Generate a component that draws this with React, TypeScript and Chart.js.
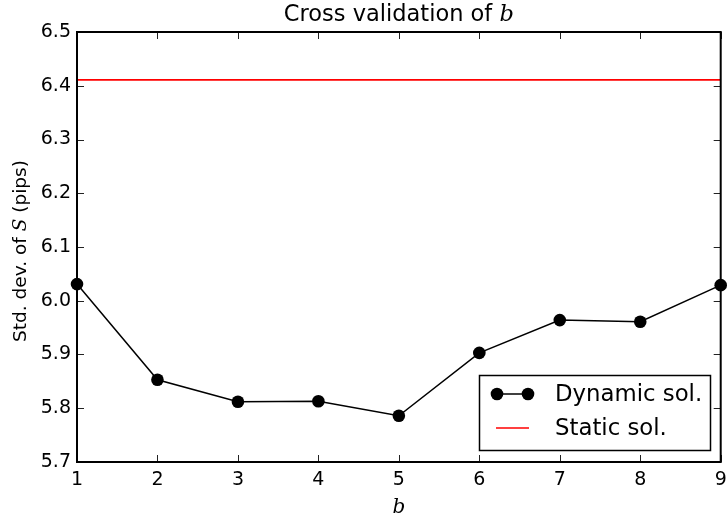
import React, { useEffect, useRef } from "react";
import { Chart, registerables } from "chart.js";

Chart.register(...registerables);

const bValues = [1, 2, 3, 4, 5, 6, 7, 8, 9];
const dynamicSol = [6.031, 5.853, 5.812, 5.813, 5.786, 5.903, 5.964, 5.961, 6.029];
const staticSol = [6.411, 6.411];
const staticX = [1, 9];
const yTicks = [5.7, 5.8, 5.9, 6.0, 6.1, 6.2, 6.3, 6.4, 6.5];
const titleText = "Cross validation of ";
const titleMath = "b";
const yLabelParts = ["Std. dev. of ", "S", " (pips)"];
const legendLabels = ["Dynamic sol.", "Static sol."];

const SANS = "'DejaVu Sans', sans-serif";

const framePlugin = {
  id: "frame",
  afterDraw(chart: any) {
    const { ctx, chartArea: a, scales } = chart;
    ctx.save();
    // inward ticks
    ctx.strokeStyle = "#222";
    ctx.lineWidth = 1;
    const tl = 7;
    scales.x.ticks.forEach((t: any) => {
      const px = Math.round(scales.x.getPixelForValue(t.value)) + 0.5;
      ctx.beginPath();
      ctx.moveTo(px, a.bottom);
      ctx.lineTo(px, a.bottom - tl);
      ctx.moveTo(px, a.top);
      ctx.lineTo(px, a.top + tl);
      ctx.stroke();
    });
    scales.y.ticks.forEach((t: any) => {
      const py = Math.round(scales.y.getPixelForValue(t.value)) + 0.5;
      ctx.beginPath();
      ctx.moveTo(a.left, py);
      ctx.lineTo(a.left + tl, py);
      ctx.moveTo(a.right, py);
      ctx.lineTo(a.right - tl, py);
      ctx.stroke();
    });
    // frame
    ctx.strokeStyle = "#000";
    ctx.lineWidth = 2;
    ctx.strokeRect(a.left, a.top, a.right - a.left, a.bottom - a.top);

    // title
    ctx.fillStyle = "#000";
    ctx.textBaseline = "alphabetic";
    const tf = `22.5px ${SANS}`;
    const tfm = "italic 22.5px 'DejaVu Serif', serif";
    ctx.font = tf;
    const w1 = ctx.measureText(titleText).width;
    ctx.font = tfm;
    const w2 = ctx.measureText(titleMath).width;
    const cx = (a.left + a.right) / 2;
    const sx = cx - (w1 + w2) / 2;
    ctx.textAlign = "left";
    ctx.font = tf;
    ctx.fillText(titleText, sx, 21);
    ctx.font = tfm;
    ctx.fillText(titleMath, sx + w1, 21);

    // x label
    ctx.font = "italic 20px 'DejaVu Serif', serif";
    ctx.textAlign = "center";
    ctx.fillText("b", cx, 513);

    // y label
    ctx.save();
    ctx.translate(26, 251);
    ctx.rotate(-Math.PI / 2);
    const fonts = [`18.5px ${SANS}`, "italic 18.5px 'DejaVu Serif', serif", `18.5px ${SANS}`];
    const widths = yLabelParts.map((p, i) => {
      ctx.font = fonts[i];
      return ctx.measureText(p).width;
    });
    const total = widths.reduce((s, v) => s + v, 0);
    let lx = -total / 2;
    ctx.textAlign = "left";
    yLabelParts.forEach((p, i) => {
      ctx.font = fonts[i];
      ctx.fillText(p, lx, 0);
      lx += widths[i];
    });
    ctx.restore();

    // legend
    const bx = 479.5, by = 375.5, bw = 231, bh = 75;
    ctx.fillStyle = "#fff";
    ctx.fillRect(bx, by, bw, bh);
    ctx.strokeStyle = "#000";
    ctx.lineWidth = 1.5;
    ctx.strokeRect(bx, by, bw, bh);
    ctx.beginPath();
    ctx.moveTo(497, 394);
    ctx.lineTo(528, 394);
    ctx.stroke();
    ctx.fillStyle = "#000";
    [497, 528].forEach((mx) => {
      ctx.beginPath();
      ctx.arc(mx, 394, 6.3, 0, Math.PI * 2);
      ctx.fill();
    });
    ctx.strokeStyle = "#ff0000";
    ctx.beginPath();
    ctx.moveTo(496, 428);
    ctx.lineTo(529, 428);
    ctx.stroke();
    ctx.fillStyle = "#000";
    ctx.font = `22.8px ${SANS}`;
    ctx.textAlign = "left";
    ctx.textBaseline = "middle";
    ctx.fillText(legendLabels[0], 555, 395);
    ctx.fillText(legendLabels[1], 555, 429);
    ctx.restore();
  },
};

export default function App() {
  const ref = useRef<HTMLCanvasElement>(null);
  useEffect(() => {
    document.body.style.margin = "0";
    const chart = new Chart(ref.current!, {
      type: "line",
      data: {
        datasets: [
          {
            label: legendLabels[0],
            data: bValues.map((x, i) => ({ x, y: dynamicSol[i] })),
            borderColor: "#000",
            backgroundColor: "#000",
            borderWidth: 1.5,
            pointRadius: 6.3,
            pointBackgroundColor: "#000",
            pointBorderWidth: 0,
            clip: false as any,
          },
          {
            label: legendLabels[1],
            data: staticX.map((x, i) => ({ x, y: staticSol[i] })),
            borderColor: "#ff0000",
            borderWidth: 1.8,
            pointRadius: 0,
          },
        ],
      },
      options: {
        animation: false,
        responsive: false,
        layout: { padding: { top: 32, right: 6, left: 0, bottom: 0 } },
        plugins: { legend: { display: false }, tooltip: { enabled: false }, title: { display: false } },
        scales: {
          x: {
            type: "linear",
            min: 1,
            max: 9,
            afterFit: (s: any) => { s.height = 54; s.paddingLeft = 0; s.paddingRight = 0; },
            grid: { display: false, drawTicks: false },
            border: { display: false },
            ticks: {
              stepSize: 1,
              padding: 7,
              color: "#000",
              font: { family: "DejaVu Sans", size: 19 },
              maxRotation: 0,
            },
          },
          y: {
            type: "linear",
            min: 5.7,
            max: 6.5,
            afterFit: (s: any) => { s.width = 77; s.paddingTop = 0; s.paddingBottom = 0; },
            afterBuildTicks: (s: any) => { s.ticks = yTicks.map((v) => ({ value: v })); },
            grid: { display: false, drawTicks: false },
            border: { display: false },
            ticks: {
              padding: 6,
              color: "#000",
              font: { family: "DejaVu Sans", size: 19 },
              callback: (v: any) => Number(v).toFixed(1),
            },
          },
        },
      },
      plugins: [framePlugin],
    });
    return () => chart.destroy();
  }, []);
  return <canvas ref={ref} width={727} height={516} style={{ display: "block" }} />;
}
